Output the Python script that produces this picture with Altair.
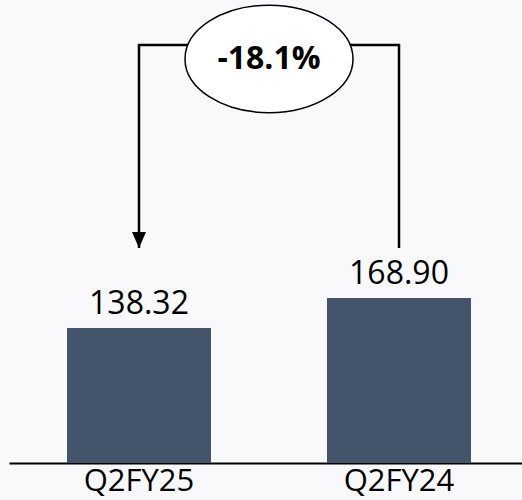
import altair as alt
import pandas as pd

# ---- data ----
categories = ["Q2FY25", "Q2FY24"]
values = [138.32, 168.90]
value_labels = ["138.32", "168.90"]
change_text = "-18.1%"
# annotation bracket levels (in value units)
bracket_top = 428
bracket_end = 220

bars_df = pd.DataFrame({"cat": categories, "val": values, "label": value_labels})
path_df = pd.DataFrame({
    "cat": [categories[0], categories[0], categories[1], categories[1]],
    "val": [bracket_end, bracket_top, bracket_top, bracket_end],
    "ord": [0, 1, 2, 3],
})
arrow_df = pd.DataFrame({"cat": [categories[0]], "val": [bracket_end]})
badge_df = pd.DataFrame({"cat": [categories[0]], "val": [bracket_top], "text": [change_text]})

# ---- layout ----
STEP = 260
x_scale = alt.Scale(domain=categories, range=[0, 2 * STEP], paddingInner=0.4462, paddingOuter=0.2231)
y_scale = alt.Scale(domain=[0, 474], nice=False, zero=True)

x_axis = alt.Axis(
    labelFont="Open Sans", labelFontSize=31, labelColor="black", labelAngle=0,
    labelPadding=3, domainColor="black", domainWidth=2, ticks=False, grid=False,
)
x_enc = alt.X("cat:N", scale=x_scale, sort=categories, axis=x_axis, title=None)
y_enc = alt.Y("val:Q", scale=y_scale, axis=None)

bars = alt.Chart(bars_df).mark_bar(color="#44546A").encode(x=x_enc, y=y_enc)

labels = alt.Chart(bars_df).mark_text(
    font="Open Sans", fontSize=32, dy=-14, baseline="alphabetic", color="black"
).encode(x=x_enc, y=y_enc, text="label:N")

bracket = alt.Chart(path_df).mark_line(color="black", strokeWidth=2.5).encode(
    x=x_enc, y=y_enc, order="ord:Q"
)

arrow = alt.Chart(arrow_df).mark_point(
    shape="M -0.875 -1 L 0.875 -1 L 0 1 Z", size=256, filled=True,
    fill="black", opacity=1, yOffset=-8,
).encode(x=x_enc, y=y_enc)

RY = 0.64
K = round(0.5523 * RY, 3)
ELLIPSE = (
    f"M -1 0 C -1 -{K} -0.552 -{RY} 0 -{RY} "
    f"C 0.552 -{RY} 1 -{K} 1 0 "
    f"C 1 {K} 0.552 {RY} 0 {RY} "
    f"C -0.552 {RY} -1 {K} -1 0 Z"
)
ellipse = alt.Chart(badge_df).mark_point(
    shape=ELLIPSE,
    size=168 * 168, filled=True, fill="white", stroke="black", strokeWidth=1.5,
    opacity=1, xOffset=STEP / 2, yOffset=14,
).encode(x=x_enc, y=y_enc)

badge_text = alt.Chart(badge_df).mark_text(
    font="Open Sans", fontWeight="bold", fontSize=32, color="black",
    align="center", baseline="middle", xOffset=STEP / 2, yOffset=14,
).encode(x=x_enc, y=y_enc, text="text:N")

chart = alt.layer(bars, labels, bracket, arrow, ellipse, badge_text).properties(
    width=513, height=463,
    autosize=alt.AutoSizeParams(type="none"),
    padding={"left": 9, "top": 0, "right": 0, "bottom": 37},
    background="#F9F9FB",
).configure_view(stroke=None)

chart.save("out.html", embed_options={"renderer": "svg", "actions": False})
